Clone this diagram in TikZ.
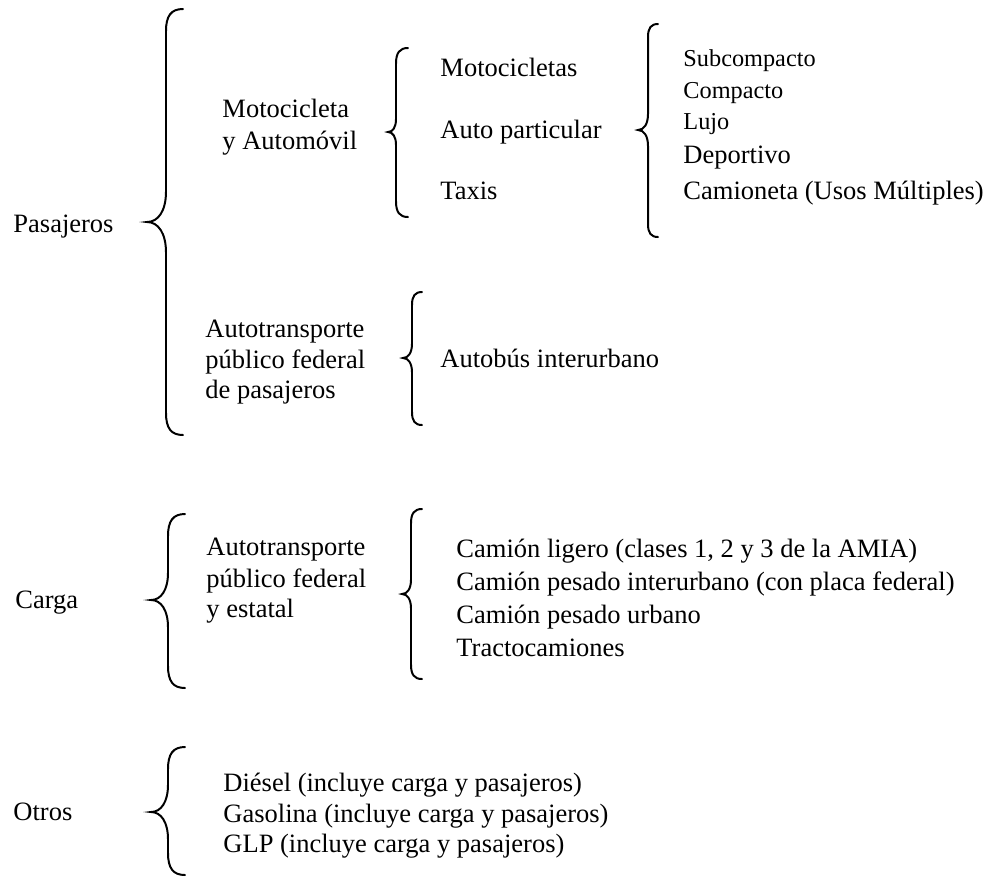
\documentclass[tikz,border=0pt]{standalone}
\usepackage{fontspec}
\setmainfont{Liberation Serif}
\usetikzlibrary{calc}
\tikzset{
  lbl/.style   = {anchor=base west, inner sep=0pt, font=\fontsize{12}{14}\selectfont},
  lblsm/.style = {lbl, font=\fontsize{11}{13}\selectfont},
  llave/.style = {draw=black, line width=0.9pt, line cap=round},
}
% left curly brace: #1 stem x, #2 tip x, #3 end x, #4 top y, #5 tip y, #6 bottom y
\newcommand{\llave}[6]{%
  \draw[llave] (#3,#4) .. controls ({#1+0.3*(#3-#1)},#4) and (#1,{#4+0.4*(#3-#1)}) .. (#1,{#4+1.3*(#3-#1)})
    -- (#1,{#5-1.6*(#1-#2)}) .. controls (#1,{#5-0.6*(#1-#2)}) and ({#1-0.4*(#1-#2)},#5) .. (#2,#5)
    .. controls ({#1-0.4*(#1-#2)},#5) and (#1,{#5+0.6*(#1-#2)}) .. (#1,{#5+1.6*(#1-#2)})
    -- (#1,{#6-1.3*(#3-#1)}) .. controls (#1,{#6-0.4*(#3-#1)}) and ({#1+0.3*(#3-#1)},#6) .. (#3,#6);
}

\begin{document}
\begin{tikzpicture}[x=0.4528pt, y=-0.4528pt]
\useasboundingbox (0,0) rectangle (989,877);

% Pasajeros
\node[lbl] (pas) at (13,232) {Pasajeros};
\llave{166}{147}{183}{9}{222}{435}

\node[lbl] (moto1) at (222,117) {Motocicleta};
\node[lbl] (moto2) at (222,149) {y Automóvil};
\llave{396}{388}{408}{48}{132}{217}

\node[lbl] (motos) at (440,76) {Motocicletas};
\node[lbl] (auto)  at (440,138) {Auto particular};
\node[lbl] (taxis) at (440,199) {Taxis};
\llave{648}{638}{658}{24}{130}{237}

\node[lblsm] (subc) at (683,66) {Subcompacto};
\node[lblsm] (comp) at (683,98) {Compacto};
\node[lblsm] (lujo) at (683,129) {Lujo};
\node[lbl] (dep)  at (683,163) {Deportivo};
\node[lbl] (cam)  at (683,199) {Camioneta (Usos Múltiples)};

\node[lbl] (apf1) at (205,337) {Autotransporte};
\node[lbl] (apf2) at (205,368) {público federal};
\node[lbl] (apf3) at (205,398) {de pasajeros};
\llave{412}{403}{422}{292}{358}{425}
\node[lbl] (bus) at (440,367) {Autobús interurbano};

% Carga
\node[lbl] (carga) at (15,608) {Carga};
\llave{168}{151}{185}{514}{600}{688}
\node[lbl] (apc1) at (206,555) {Autotransporte};
\node[lbl] (apc2) at (206,587) {público federal};
\node[lbl] (apc3) at (206,617) {y estatal};
\llave{411}{402}{422}{509}{594}{679}
\node[lbl] (cl1) at (456,557) {Camión ligero (clases 1, 2 y 3 de la AMIA)};
\node[lbl] (cl2) at (456,590) {Camión pesado interurbano (con placa federal)};
\node[lbl] (cl3) at (456,623) {Camión pesado urbano};
\node[lbl] (cl4) at (456,656) {Tractocamiones};

% Otros
\node[lbl] (otros) at (13,820) {Otros};
\llave{168}{151}{185}{747}{812}{875}
\node[lbl] (die) at (223,791) {Diésel (incluye carga y pasajeros)};
\node[lbl] (gas) at (223,822) {Gasolina (incluye carga y pasajeros)};
\node[lbl] (glp) at (223,852) {GLP (incluye carga y pasajeros)};

\end{tikzpicture}
\end{document}
